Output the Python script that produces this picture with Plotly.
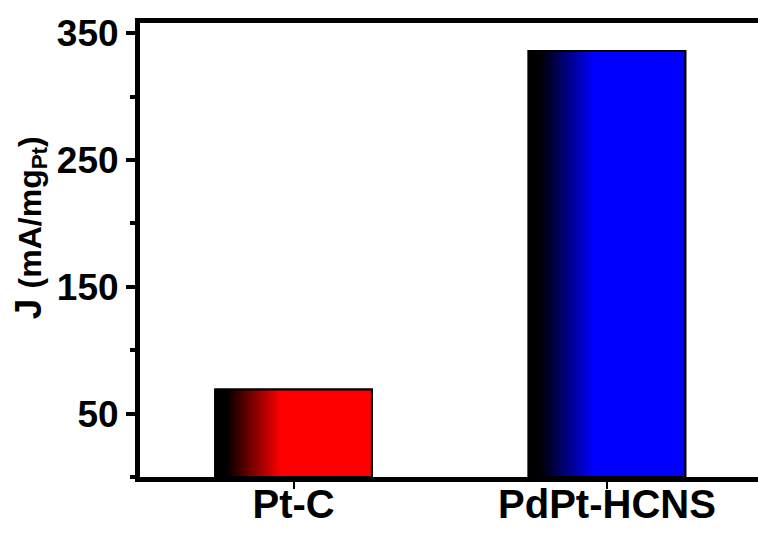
import plotly.graph_objects as go

categories = ["Pt-C", "PdPt-HCNS"]
values = [69, 336]
bar_colors = ["#ff0000", "#0000ff"]
y_tickvals = [50, 150, 250, 350]

BAR_W = 0.5
FONT = "Liberation Sans, Arial, sans-serif"

fig = go.Figure()
xpos = list(range(len(categories)))

fig.add_trace(go.Bar(
    x=xpos, y=values, width=BAR_W,
    marker=dict(color=bar_colors, line=dict(color="black", width=2)),
    showlegend=False, hoverinfo="skip",
))

# gradient overlays derived from the same data
for i, (v, c) in enumerate(zip(values, bar_colors)):
    x0, x1 = i - BAR_W / 2, i + BAR_W / 2
    fig.add_trace(go.Scatter(
        x=[x0, x1, x1, x0, x0], y=[0, 0, v, v, 0],
        mode="lines", fill="toself",
        line=dict(color="black", width=2),
        fillgradient=dict(type="horizontal",
                          colorscale=[[0, "black"], [0.07, "black"], [0.42, c], [1, c]]),
        showlegend=False, hoverinfo="skip",
    ))

fig.update_layout(
    width=758, height=533,
    margin=dict(l=140, r=0, t=23, b=56, autoexpand=False),
    plot_bgcolor="white", paper_bgcolor="white",
    font=dict(family=FONT, color="black", size=36, weight="bold"),
    xaxis=dict(
        range=[-0.49, 1.482], tickvals=xpos, ticktext=categories,
        showline=True, linewidth=5, linecolor="black", mirror=True,
        ticks="outside", ticklen=7, tickwidth=2, tickcolor="black",
        tickfont=dict(size=40, family=FONT, weight="bold"),
        ticklabelstandoff=-19,
        showgrid=False, zeroline=False, automargin=False,
    ),
    yaxis=dict(
        range=[0, 358], tickvals=y_tickvals,
        showline=True, linewidth=5, linecolor="black",
        ticks="outside", ticklen=9, tickwidth=4, tickcolor="black",
        minor=dict(tick0=0, dtick=100, ticks="outside", ticklen=5, tickwidth=4, tickcolor="black"),
        tickfont=dict(size=37, family=FONT, weight="bold"),
        showgrid=False, zeroline=False, automargin=False,
    ),
    annotations=[dict(
        text="J <span style='font-size:32px'>(mA/mg<sub>Pt</sub>)</span>", textangle=-90,
        xref="paper", yref="paper", x=-0.178, y=0.55,
        xanchor="center", yanchor="middle", showarrow=False,
        font=dict(size=37, family=FONT, weight="bold", color="black"),
    )],
)

fig.write_html("out.html")
